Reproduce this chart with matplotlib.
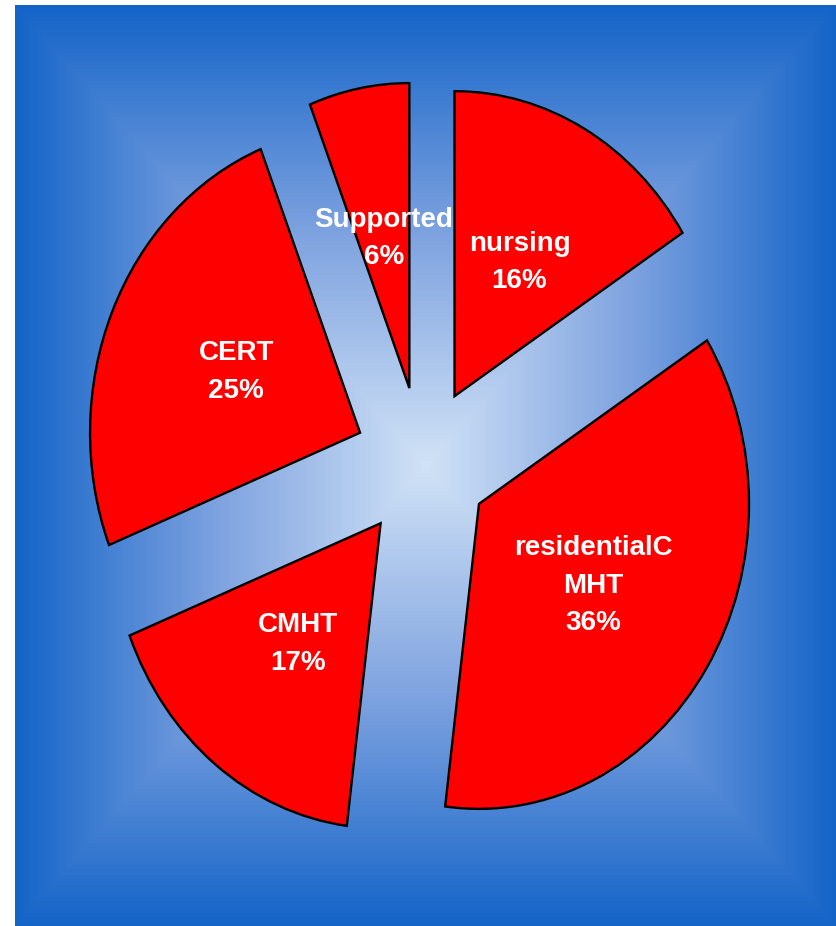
import numpy as np
import matplotlib.pyplot as plt
from matplotlib.colors import LinearSegmentedColormap

# 数据
names = ['nursing', 'residentialC\nMHT', 'CMHT', 'CERT', 'Supported']
shares = [16, 36, 17, 25, 6]

W, H = 836, 926
fig = plt.figure(figsize=(W / 100, H / 100), dpi=100)
fig.patch.set_facecolor('white')

# 背景: 矩形渐变 (中心浅, 边缘深蓝)
bg = fig.add_axes([15 / W, 0, (W - 15) / W, (H - 5) / H])
u = np.linspace(-1, 1, 600)
v = np.linspace(-1, 1, 600)
uu, vv = np.meshgrid(u, v)
t = np.maximum(np.abs(uu), np.abs(vv))
cmap = LinearSegmentedColormap.from_list('bg', ['#d0e2f6', '#7fa3e0', '#1464c8'])
bg.imshow(t, cmap=cmap, aspect='auto', extent=(0, 1, 0, 1), interpolation='bilinear')
bg.set_axis_off()

# 饼图
ax = fig.add_axes([0, 0, 1, 1])
ax.patch.set_alpha(0)
total = sum(shares)
labels = [f'{n}\n{round(s / total * 100)}%' for n, s in zip(names, shares)]
wedges, texts = ax.pie(shares, labels=labels, explode=[0.25] * len(shares),
                       startangle=90, counterclock=False, labeldistance=0.5,
                       colors=['#ff0000'] * len(shares),
                       wedgeprops=dict(edgecolor='black', linewidth=1.7, joinstyle='miter'))
for tx in texts:
    tx.set_ha('center')
    tx.set_va('center')
    tx.set_color('white')
    tx.set_fontsize(20)
    tx.set_fontweight('bold')
    tx.set_family('Liberation Sans')
    tx.set_linespacing(1.58)

# 椭圆: 水平半径 270px, 垂直半径 305px, 中心 (422, 463)
ax.set_aspect('auto')
rx, ry = 270, 305
cx, cy = 422, 463
ax.set_xlim(-cx / rx, (W - cx) / rx)
ax.set_ylim(-(H - cy) / ry, cy / ry)
ax.set_axis_off()

fig.savefig('out.png', dpi=100)
